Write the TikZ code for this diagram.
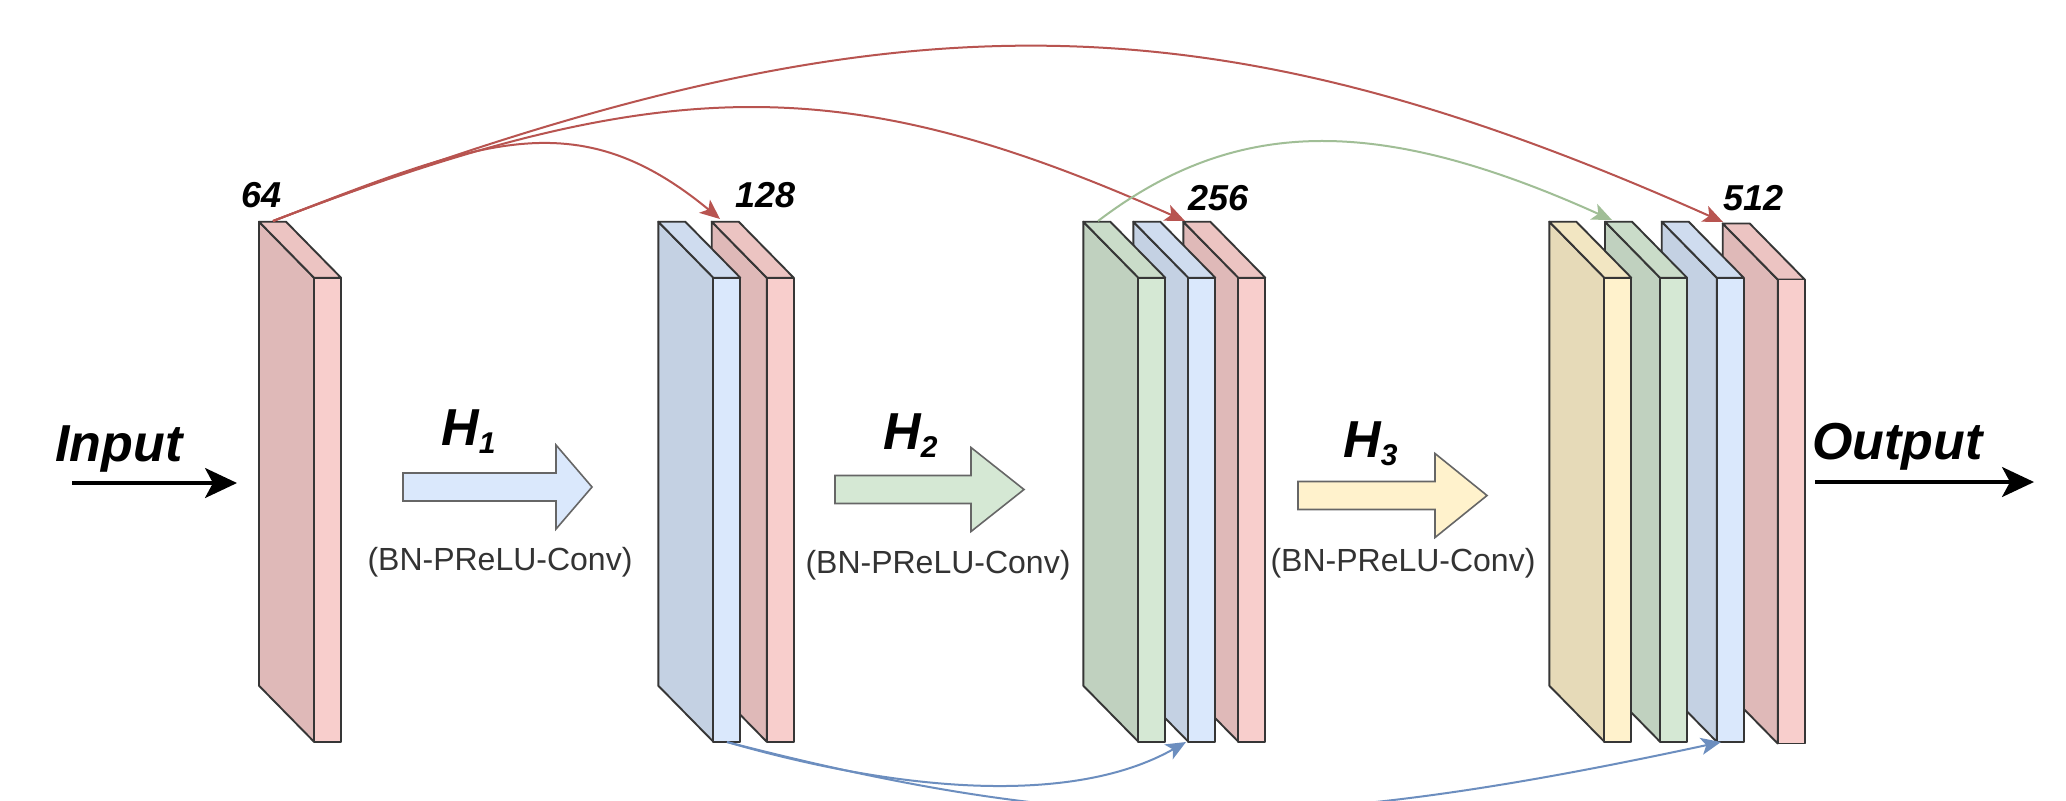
\documentclass[tikz,border=0pt]{standalone}
\usepackage{fontspec}
\setmainfont{Liberation Sans}
\usepackage{tikz}
\usetikzlibrary{arrows.meta,positioning}
\definecolor{rose}{HTML}{F8CECC}
\definecolor{roseside}{HTML}{DFB9B8}
\definecolor{rosetop}{HTML}{ECC4C2}
\definecolor{sky}{HTML}{DAE8FC}
\definecolor{skyside}{HTML}{C4D1E3}
\definecolor{skytop}{HTML}{CFDCEF}
\definecolor{sage}{HTML}{D5E8D4}
\definecolor{sageside}{HTML}{C0D1BF}
\definecolor{sagetop}{HTML}{CADCC9}
\definecolor{sand}{HTML}{FFF2CC}
\definecolor{sandside}{HTML}{E6DAB8}
\definecolor{sandtop}{HTML}{F2E6C2}
\definecolor{slabedge}{HTML}{363636}
\definecolor{skipred}{HTML}{B85450}
\definecolor{skipblue}{HTML}{6C8EBF}
\definecolor{skipgreen}{HTML}{A0BE96}
\tikzset{
  slabln/.style={draw=slabedge, line width=0.95pt, line join=round},
  fatarrowln/.style={draw=black!60, line width=0.8pt},
  skipln/.style={-{Stealth[length=10pt,width=8.5pt,inset=2.5pt]}, line width=1pt},
  ioarrow/.style={-{Stealth[length=16pt,width=15pt,inset=4pt]}, line width=1.6pt, black},
  bigtxt/.style={font=\fontsize{26}{31}\selectfont\bfseries\itshape, inner sep=0pt},
  numtxt/.style={font=\fontsize{18}{22}\selectfont\bfseries\itshape, inner sep=0pt},
  optxt/.style={font=\fontsize{16}{19}\selectfont, text=black!80, inner sep=0pt},
}
\newcommand{\drawslab}[3]{%
  \begin{scope}[shift={(#1,#2)}]
    \filldraw[slabln, fill=#3side] (0,0) -- (55,56) -- (55,520) -- (0,464) -- cycle;
    \filldraw[slabln, fill=#3top] (0,0) -- (27,0) -- (82,56) -- (55,56) -- cycle;
    \filldraw[slabln, fill=#3] (55,56) rectangle (82,520);
  \end{scope}
}
\newcommand{\blockarrow}[5]{%
  \filldraw[fatarrowln, fill=#5] (#1,#2-14) -- (#1+#3-#4,#2-14) -- (#1+#3-#4,#2-42)
    -- (#1+#3,#2) -- (#1+#3-#4,#2+42) -- (#1+#3-#4,#2+14) -- (#1,#2+14) -- cycle;
}
\newcommand{\hsub}[1]{\raisebox{-4pt}{\fontsize{15}{15}\selectfont #1}}

\begin{document}
\begin{tikzpicture}[x=0.5pt, y=-0.5pt]
    \fill[white] (0,0) rectangle (2066,800);
    \useasboundingbox (0,0) rectangle (2066,800);
    % feature maps, right to left so each slab covers the one behind it
    \foreach \sx/\sy/\sc in {1722.7/223.5/rose, 1661.7/221.7/sky, 1605/221.7/sage, 1549.3/221.7/sand,
                             1183.3/221.7/rose, 1133.3/221.7/sky, 1083.3/221.7/sage,
                             711.7/221.7/rose, 658.3/221.7/sky, 259/221.7/rose}
      {\drawslab{\sx}{\sy}{\sc}}
    % transition blocks
    \blockarrow{403}{487}{189}{36}{sky}
    \blockarrow{835}{489.5}{189}{53}{sage}
    \blockarrow{1298}{495.5}{189}{52}{sand}
    % labels
    \node[bigtxt, anchor=base west] (inlbl) at (55,461) {Input};
    \node[bigtxt, anchor=base west] (outlbl) at (1812,459) {Output};
    \node[bigtxt, anchor=base west] (h1) at (441,445) {H\hsub{1}};
    \node[bigtxt, anchor=base west] (h2) at (883,449) {H\hsub{2}};
    \node[bigtxt, anchor=base west] (h3) at (1343,457) {H\hsub{3}};
    \node[optxt, anchor=base] (bn1) at (500,570) {(BN-PReLU-Conv)};
    \node[optxt, anchor=base] (bn2) at (938,573) {(BN-PReLU-Conv)};
    \node[optxt, anchor=base] (bn3) at (1403,571) {(BN-PReLU-Conv)};
    \node[numtxt, anchor=base west] (n64) at (241,207) {64};
    \node[numtxt, anchor=base west] (n128) at (735,207) {128};
    \node[numtxt, anchor=base west] (n256) at (1188,210) {256};
    \node[numtxt, anchor=base west] (n512) at (1723,210) {512};
    % input / output
    \coordinate (inA) at (72,483);
    \coordinate (inB) at (237,483);
    \coordinate (outA) at (1815,482);
    \coordinate (outB) at (2034,482);
    \draw[ioarrow] (inA) -- (inB);
    \draw[ioarrow] (outA) -- (outB);
    % dense skip links
    \coordinate (src64) at (273,221);
    \coordinate (dst128) at (720,219);
    \coordinate (dst256) at (1185,221);
    \coordinate (dst512) at (1723,222);
    \coordinate (srcg) at (1098,221);
    \coordinate (dstg) at (1612,220);
    \coordinate (srcb) at (727,742);
    \coordinate (dstb1) at (1186,742);
    \coordinate (dstb2) at (1721,742);
    \draw[skipln, skipred] (src64) .. controls (480,141) and (576,100) .. (dst128);
    \draw[skipln, skipred] (src64) .. controls (666,70) and (846,70) .. (dst256);
    \draw[skipln, skipred] (src64) .. controls (881,-12) and (1198,-12) .. (dst512);
    \draw[skipln, skipgreen] (srcg) .. controls (1236,116) and (1379,115) .. (dstg);
    \draw[skipln, skipblue] (srcb) .. controls (900,792) and (1073,806) .. (dstb1);
    \draw[skipln, skipblue] (srcb) .. controls (1088,835) and (1289,835) .. (dstb2);
\end{tikzpicture}
\end{document}
